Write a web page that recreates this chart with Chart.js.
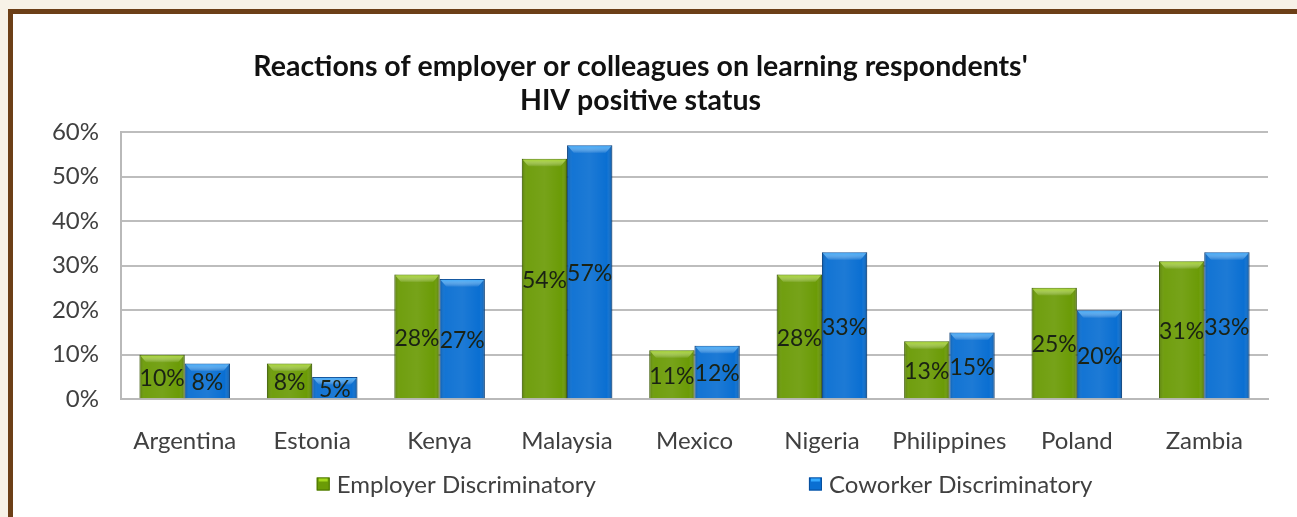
<!DOCTYPE html>
<html>
<head>
<meta charset="utf-8">
<script src="https://cdn.jsdelivr.net/npm/chart.js@4.4.1/dist/chart.umd.min.js"></script>
<style>
  html, body { margin: 0; padding: 0; background: #f7f2e7; overflow: hidden; }
  #frame { position: absolute; left: 8px; top: 9px; width: 1400px; height: 600px;
           background: #ffffff; border-left: 5px solid #6c3f17; border-top: 5px solid #6c3f17; }
  #c { position: absolute; left: 0; top: 0; }
</style>
</head>
<body>
<div id="frame"><canvas id="c" width="1284" height="503"></canvas></div>
<script>
const categories = ["Argentina", "Estonia", "Kenya", "Malaysia", "Mexico", "Nigeria", "Philippines", "Poland", "Zambia"];
const employerValues = [10, 8, 28, 54, 11, 28, 13, 25, 31];
const coworkerValues = [8, 5, 27, 57, 12, 33, 15, 20, 33];
const seriesNames = ["Employer Discriminatory", "Coworker Discriminatory"];
const yTicks = [0, 10, 20, 30, 40, 50, 60];
const titleLines = ["Reactions of employer or colleagues on learning respondents'", "HIV positive status"];

const FONT = "Lato, 'Open Sans', sans-serif";
const fills = ["#6b9b06", "#0a6fd2"];
const edges = ["#4a7300", "#084f9c"];
const caps = ["#a4d81c", "#35aaff"];

const bevelPlugin = {
  id: 'bevel',
  afterDatasetsDraw(chart) {
    const ctx = chart.ctx;
    chart.data.datasets.forEach((ds, di) => {
      const meta = chart.getDatasetMeta(di);
      meta.data.forEach(bar => {
        const { x, y, base, width } = bar.getProps(['x', 'y', 'base', 'width'], true);
        const l = x - width / 2, r = x + width / 2, h = base - y;
        ctx.save();
        const g = ctx.createLinearGradient(l, 0, r, 0);
        g.addColorStop(0, 'rgba(0,0,0,0.20)');
        g.addColorStop(0.12, 'rgba(255,255,255,0.04)');
        g.addColorStop(0.5, 'rgba(255,255,255,0.08)');
        g.addColorStop(0.88, 'rgba(255,255,255,0.0)');
        g.addColorStop(1, 'rgba(0,0,0,0.25)');
        ctx.fillStyle = g;
        ctx.fillRect(l, y, width, h);
        const capH = Math.min(8, h / 2);
        const cg = ctx.createLinearGradient(0, y, 0, y + capH);
        cg.addColorStop(0, caps[di]);
        cg.addColorStop(1, 'rgba(255,255,255,0)');
        ctx.fillStyle = cg;
        ctx.beginPath();
        ctx.moveTo(l + 1, y + 1);
        ctx.lineTo(r - 1, y + 1);
        ctx.lineTo(r - 7, y + capH);
        ctx.lineTo(l + 7, y + capH);
        ctx.closePath();
        ctx.fill();
        ctx.restore();
      });
    });
  }
};

const valueLabelPlugin = {
  id: 'valueLabels',
  afterDatasetsDraw(chart) {
    const ctx = chart.ctx;
    ctx.save();
    ctx.font = "23px " + FONT;
    ctx.fillStyle = "#1a2214";
    ctx.textAlign = 'center';
    ctx.textBaseline = 'middle';
    chart.data.datasets.forEach((ds, di) => {
      const meta = chart.getDatasetMeta(di);
      meta.data.forEach((bar, i) => {
        const { x, y, base } = bar.getProps(['x', 'y', 'base'], true);
        ctx.fillText(ds.data[i] + '%', x, (y + base) / 2 + 2);
      });
    });
    ctx.restore();
  }
};

const legendPlugin = {
  id: 'customLegend',
  afterDraw(chart) {
    const ctx = chart.ctx;
    const ca = chart.chartArea;
    const cy = 470;
    const gap = 213;
    ctx.save();
    ctx.font = "24px " + FONT;
    ctx.textBaseline = 'middle';
    const widths = chart.data.datasets.map(d => ctx.measureText(d.label).width);
    const box = 13, sp = 7;
    const total = widths.reduce((a, w) => a + box + sp + w, 0) + gap;
    let x = (ca.left + ca.right) / 2 + 10 - total / 2;
    chart.data.datasets.forEach((d, i) => {
      ctx.fillStyle = fills[i];
      ctx.fillRect(x, cy - box / 2, box, box);
      ctx.strokeStyle = edges[i];
      ctx.lineWidth = 1;
      ctx.strokeRect(x + 0.5, cy - box / 2 + 0.5, box - 1, box - 1);
      ctx.fillStyle = caps[i];
      ctx.fillRect(x + 2, cy - box / 2 + 1, box - 4, 3);
      ctx.fillStyle = "#404040";
      ctx.textAlign = 'left';
      ctx.fillText(d.label, x + box + sp, cy + 1);
      x += box + sp + widths[i] + gap;
    });
    ctx.restore();
  }
};

new Chart(document.getElementById('c'), {
  type: 'bar',
  data: {
    labels: categories,
    datasets: [
      { label: seriesNames[0], data: employerValues, backgroundColor: fills[0], borderColor: edges[0], borderWidth: 1 },
      { label: seriesNames[1], data: coworkerValues, backgroundColor: fills[1], borderColor: edges[1], borderWidth: 1 }
    ]
  },
  options: {
    responsive: false,
    devicePixelRatio: 1,
    animation: false,
    layout: { padding: { left: 0, right: 29, top: 0, bottom: 33 } },
    datasets: { bar: { categoryPercentage: 0.71, barPercentage: 1.0 } },
    plugins: {
      legend: { display: false },
      tooltip: { enabled: false },
      title: {
        display: true,
        text: titleLines,
        color: "#111111",
        font: { family: FONT, size: 28.5, weight: 'bold', lineHeight: 1.193 },
        padding: { top: 36, bottom: 14 }
      }
    },
    scales: {
      x: {
        grid: { display: false, drawTicks: false },
        border: { display: true, color: "#b9b9b9", width: 2 },
        ticks: { color: "#404040", font: { family: FONT, size: 24 }, padding: 28, maxRotation: 0 }
      },
      y: {
        min: 0, max: 60,
        afterBuildTicks(scale) { scale.ticks = yTicks.map(v => ({ value: v })); },
        afterFit(scale) { scale.width = 108; },
        grid: { color: "#bdbdbd", lineWidth: 2, drawTicks: false },
        border: { display: true, color: "#b9b9b9", width: 2 },
        ticks: { color: "#404040", font: { family: FONT, size: 24 }, padding: 22, callback: v => v + '%' }
      }
    }
  },
  plugins: [bevelPlugin, valueLabelPlugin, legendPlugin]
});
</script>
</body>
</html>
